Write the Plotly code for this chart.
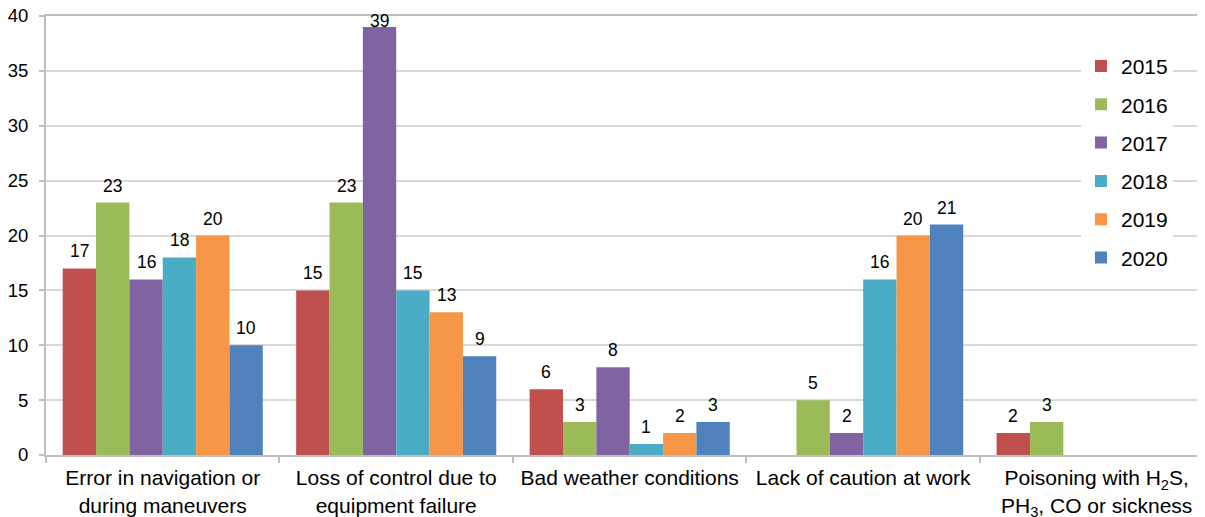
import plotly.graph_objects as go

categories = [
    "Error in navigation or<br>during maneuvers",
    "Loss of control due to<br>equipment failure",
    "Bad weather conditions",
    "Lack of caution at work",
    "Poisoning with H<sub>2</sub>S,<br>PH<sub>3</sub>, CO or sickness",
]
years = ["2015", "2016", "2017", "2018", "2019", "2020"]
values = {
    "2015": [17, 15, 6, None, 2],
    "2016": [23, 23, 3, 5, 3],
    "2017": [16, 39, 8, 2, None],
    "2018": [18, 15, 1, 16, None],
    "2019": [20, 13, 2, 20, None],
    "2020": [10, 9, 3, 21, None],
}
colors = ["#c0504d", "#9bbb59", "#8064a2", "#4bacc6", "#f79646", "#4f81bd"]
y_ticks = [0, 5, 10, 15, 20, 25, 30, 35, 40]
Y_MAX = 40

FONT = "Arial, Liberation Sans, sans-serif"
BARGAP = 0.143

fig = go.Figure()
annotations = []
n = len(years)
group_w = 1 - BARGAP
for i, (yr, col) in enumerate(zip(years, colors)):
    vals = values[yr]
    fig.add_trace(go.Bar(
        x=categories,
        y=vals,
        name=yr,
        legendgroup=yr,
        marker=dict(color=col, line=dict(width=0)),
    ))
    # value labels above each bar (kept inside the plot area near the top)
    for c, v in enumerate(vals):
        if v is None:
            continue
        near_top = v > Y_MAX - 2
        annotations.append(dict(
            x=c - group_w / 2 + (i + 0.5) * group_w / n, y=v,
            xref="x", yref="y", text=str(v), showarrow=False,
            yanchor="bottom", yshift=(-6 if near_top else 5),
            font=dict(size=17.5, color="black", family=FONT),
        ))

fig.update_layout(
    width=1197, height=509,
    margin=dict(l=38, r=0, t=8, b=62),
    paper_bgcolor="white", plot_bgcolor="white",
    barmode="group", bargap=BARGAP, bargroupgap=0,
    font=dict(family=FONT, size=17, color="black"),
    showlegend=True,
    legend=dict(
        x=0.893, y=0.932, xanchor="left", yanchor="top",
        bgcolor="white", font=dict(size=21, family=FONT),
        traceorder="grouped", tracegroupgap=8,
        itemwidth=30,
    ),
    annotations=annotations,
    xaxis=dict(
        type="category",
        range=[-0.5, 4.464],
        showline=True, linecolor="#bfbfbf", linewidth=2, mirror=True,
        ticks="outside", ticklen=6, tickcolor="#bfbfbf", tickwidth=2,
        tickson="boundaries",
        tickfont=dict(size=21, family=FONT),
        ticklabelstandoff=3,
        showgrid=False, zeroline=False, automargin=False,
    ),
    yaxis=dict(
        range=[0, Y_MAX], tickvals=y_ticks,
        showline=True, linecolor="#bfbfbf", linewidth=2,
        ticks="outside", ticklen=5, tickcolor="#bfbfbf", tickwidth=2,
        showgrid=True, gridcolor="#d9d9d9", gridwidth=2,
        zeroline=False, automargin=False,
        ticklabelstandoff=7, ticklabeloverflow="allow",
        tickfont=dict(size=18.5, family=FONT),
    ),
)

fig.write_html("out.html")
